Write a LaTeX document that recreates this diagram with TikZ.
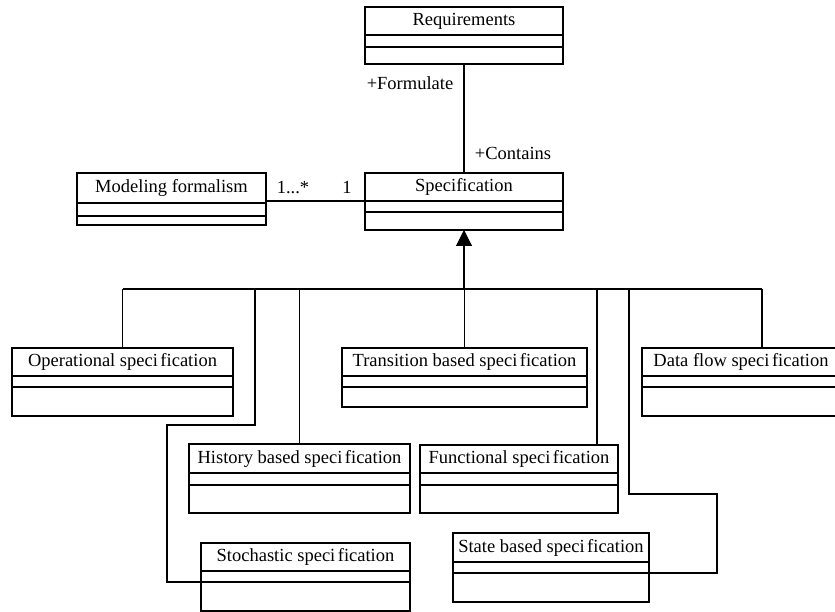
\documentclass[tikz,border=0pt]{standalone}
\usepackage{fontspec}
\setmainfont{Liberation Serif}[Ligatures=CommonOff]
\usetikzlibrary{arrows.meta}

% "specification" as set in this class diagram
\newcommand\spc{speci\kern2.5pt fication}

\tikzset{
  boxline/.style={line width=1.2pt},
  classbox/.style={draw, boxline, rectangle, inner sep=0pt, outer sep=0pt},
  classname/.style={inner sep=0pt, text height=13pt, text depth=4pt,
                    font=\fontsize{18.5}{22}\selectfont},
  conn/.style={line width=1.1pt},
  role/.style={inner sep=0pt, text height=13pt, text depth=4pt,
               font=\fontsize{18.5}{22}\selectfont},
}

% UML class box: [label shift]{name}{left}{top}{right}{divider 1}{divider 2}{bottom}{title}
\newcommand\umlclass[9][0]{%
  \node[classbox, minimum width={(#5-#3)*1pt}, minimum height={(#8-#4)*1pt},
        anchor=north west] (#2) at (#3,#4) {};
  \draw[boxline] (#3,#6) -- (#5,#6) (#3,#7) -- (#5,#7);
  \node[classname] (#2-label) at ({(#3+#5)/2+#1},{(#4+#6)/2}) {#9};
}

\begin{document}
\begin{tikzpicture}[x=1pt, y=-1pt]
  \clip (0,0) rectangle (835,612);

  % classes
  \umlclass{req}{365}{7}{563}{35}{47}{64}{Requirements}
  \umlclass{spec}{365}{173}{563}{201}{212}{230}{Specification}
  \umlclass{mf}{77}{173}{266}{203}{216}{225}{Modeling formalism}
  \umlclass{op}{12}{348}{233}{376}{387}{416}{Operational \spc}
  \umlclass{trans}{342}{348}{587}{376}{387}{407}{Transition based \spc}
  \umlclass[-21]{df}{642}{348}{882}{376}{387}{416}{Data flow \spc}
  \umlclass{hist}{189}{444}{410}{473}{485}{513}{History based \spc}
  \umlclass{func}{420}{445}{618}{473}{485}{513}{Functional \spc}
  \umlclass{state}{453}{533}{649}{562}{573}{602}{State based \spc}
  \umlclass{stoch}{201}{543}{410}{571}{582}{611}{Stochastic \spc}

  % association Requirements -- Specification
  \draw[conn] (req.south) -- (spec.north);
  \node[role] (formulate) at (410,85.5) {+Formulate};
  \node[role] (contains) at (513,155.5) {+Contains};

  % association Modeling formalism -- Specification
  \draw[conn] (mf.east |- 0,201) -- (spec.west |- 0,201);
  \node[role] (many) at (293,189.5) {1...*};
  \node[role] (one) at (347,189.5) {1};

  % generalization tree
  \coordinate (busL) at (123,289);
  \coordinate (busR) at (762,289);
  \draw[conn] (busL) -- (busR);
  \draw[conn, -{Triangle[length=16pt, width=16pt]}] (spec.south |- busL) -- (spec.south);

  \draw[conn] (op.north |- busL) -- (op.north);
  \draw[conn] (hist.north |- busL) -- (hist.north);
  \draw[conn] (trans.north |- busL) -- (trans.north);
  \draw[conn] (df.north |- busL) -- (df.north);

  \coordinate (fj) at (597,289);
  \draw[conn] (fj) -- (fj |- func.north);

  \coordinate (sj) at (255,289);
  \coordinate (sk) at (167,425);
  \coordinate (stoch-in) at (stoch.west |- 0,582);
  \draw[conn] (sj) |- (sk) |- (stoch-in);

  \coordinate (tj) at (629,289);
  \coordinate (tk) at (717,494);
  \coordinate (state-in) at (state.east |- 0,573);
  \draw[conn] (tj) |- (tk) |- (state-in);
\end{tikzpicture}
\end{document}
